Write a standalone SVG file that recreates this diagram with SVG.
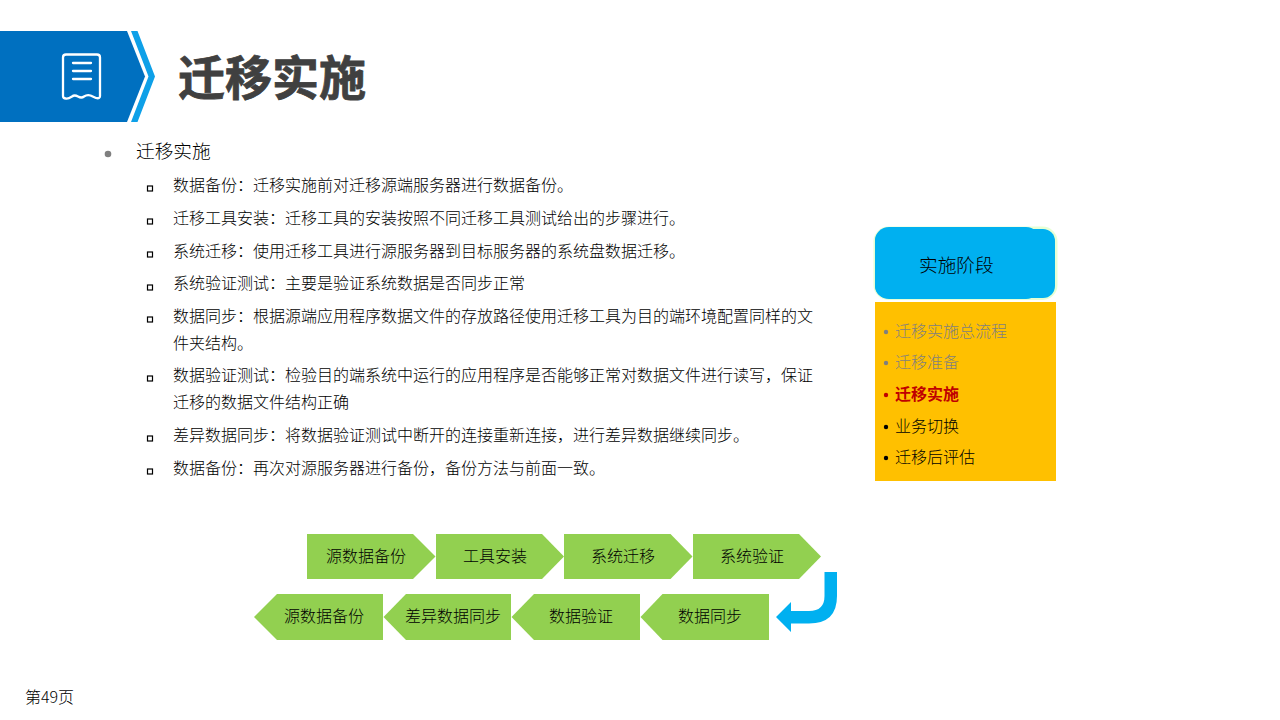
<svg xmlns="http://www.w3.org/2000/svg" width="1280" height="720" viewBox="0 0 1280 720">
<style>
text{font-family:"Noto Sans CJK SC","Noto Sans",sans-serif;fill:#000;font-weight:300}
.b{font-size:16px}
.s{font-size:16px;text-anchor:middle}
.step{fill:#92d050}
.sq{fill:none;stroke:#000;stroke-width:1.200}
.ln{fill:none;stroke:#fff;stroke-width:2.300;stroke-linecap:round;stroke-linejoin:round}
.g{fill:#7f7f7f}
text.r{fill:#c00000;font-weight:700}
text.t{fill:#404040;stroke:#404040;stroke-width:.8;font-weight:700;font-size:47px}
</style>
<rect width="1280" height="720" fill="#fff"/>
<g id="header">
<polygon points="0,31 127,31 145,76.500 127,122 0,122" fill="#0070c0"/>
<polygon points="131,31 137.500,31 155,76.500 137.500,122 131,122 148.500,76.500" fill="#0ea0e8"/>
<path class="ln" d="M66,54.500H97Q100,54.500 100,57.500V96Q100,99 96,98 L90.500,95.500Q87,94.500 84,96.500Q81.500,98.500 78,96.500Q74.500,94.500 72,96.500Q68,99 66,98.500Q63,98.500 63,96V57.500Q63,54.500 66,54.500Z"/>
<path class="ln" d="M73,63H91M73,71H91M73,79H91"/>
<text class="t" x="178" y="95">迁移实施</text>
</g>
<g id="content">
<circle cx="108" cy="154" r="3.300" fill="#7f7f7f"/>
<text x="136" y="158" font-size="18.700">迁移实施</text>
<rect class="sq" x="147.500" y="186" width="5" height="5"/>
<text class="b" x="173" y="191">数据备份：迁移实施前对迁移源端服务器进行数据备份。</text>
<rect class="sq" x="147.500" y="219" width="5" height="5"/>
<text class="b" x="173" y="224">迁移工具安装：迁移工具的安装按照不同迁移工具测试给出的步骤进行。</text>
<rect class="sq" x="147.500" y="252" width="5" height="5"/>
<text class="b" x="173" y="257">系统迁移：使用迁移工具进行源服务器到目标服务器的系统盘数据迁移。</text>
<rect class="sq" x="147.500" y="285" width="5" height="5"/>
<text class="b" x="173" y="289">系统验证测试：主要是验证系统数据是否同步正常</text>
<rect class="sq" x="147.500" y="317" width="5" height="5"/>
<text class="b" x="173" y="322">数据同步：根据源端应用程序数据文件的存放路径使用迁移工具为目的端环境配置同样的文</text>
<text class="b" x="173" y="349">件夹结构。</text>
<rect class="sq" x="147.500" y="376" width="5" height="5"/>
<text class="b" x="173" y="381">数据验证测试：检验目的端系统中运行的应用程序是否能够正常对数据文件进行读写，保证</text>
<text class="b" x="173" y="408">迁移的数据文件结构正确</text>
<rect class="sq" x="147.500" y="436" width="5" height="5"/>
<text class="b" x="173" y="441">差异数据同步：将数据验证测试中断开的连接重新连接，进行差异数据继续同步。</text>
<rect class="sq" x="147.500" y="469" width="5" height="5"/>
<text class="b" x="173" y="474">数据备份：再次对源服务器进行备份，备份方法与前面一致。</text>
</g>
<g id="phase-header">
<rect x="873.500" y="226.500" width="184" height="73.500" rx="15" fill="#e6ffd5"/>
<rect x="875" y="227" width="165" height="72" rx="14" fill="#00b0f0"/>
<rect x="875" y="229" width="180" height="69" rx="12" fill="#00b0f0"/>
<text x="919" y="272" font-size="18.700">实施阶段</text>
</g>
<g id="phase-list">
<rect x="875" y="302" width="181" height="179" fill="#ffc000"/>
<circle cx="886" cy="332" r="2.200" fill="#7f7f7f"/>
<text class="b g" x="895" y="337">迁移实施总流程</text>
<circle cx="886" cy="363" r="2.200" fill="#7f7f7f"/>
<text class="b g" x="895" y="368">迁移准备</text>
<circle cx="886" cy="395" r="2.200" fill="#c00000"/>
<text class="b r" x="895" y="400">迁移实施</text>
<circle cx="886" cy="427" r="2.200" fill="#000"/>
<text class="b" x="895" y="432">业务切换</text>
<circle cx="886" cy="458" r="2.200" fill="#000"/>
<text class="b" x="895" y="463">迁移后评估</text>
</g>
<g id="step-1"><polygon class="step" points="307,534 413,534 435.500,556.500 413,579 307,579"/><text class="s" x="366" y="562">源数据备份</text></g>
<g id="step-2"><polygon class="step" points="436,534 542,534 564,556.500 542,579 436,579"/><text class="s" x="495" y="562">工具安装</text></g>
<g id="step-3"><polygon class="step" points="564,534 670.500,534 692.500,556.500 670.500,579 564,579"/><text class="s" x="623" y="562">系统迁移</text></g>
<g id="step-4"><polygon class="step" points="693,534 799,534 821,556.500 799,579 693,579"/><text class="s" x="752" y="562">系统验证</text></g>
<g id="step-5"><polygon class="step" points="769,594 662.500,594 640.500,617 662.500,640 769,640"/><text class="s" x="710" y="622">数据同步</text></g>
<g id="step-6"><polygon class="step" points="640,594 534,594 511.500,617 534,640 640,640"/><text class="s" x="581" y="622">数据验证</text></g>
<g id="step-7"><polygon class="step" points="511,594 406,594 383.500,617 406,640 511,640"/><text class="s" x="453" y="622">差异数据同步</text></g>
<g id="step-8"><polygon class="step" points="383,594 277,594 254,617 277,640 383,640"/><text class="s" x="324" y="622">源数据备份</text></g>
<g id="connectors">
<path d="M824.500,572H837V596Q837,623.500 809,623.500H791V632L776,617L791,602V611H809Q824.500,611 824.500,596Z" fill="#00b0f0"/>
</g>
<g id="footer"><text x="25" y="703" font-size="16">第49页</text></g>
</svg>
